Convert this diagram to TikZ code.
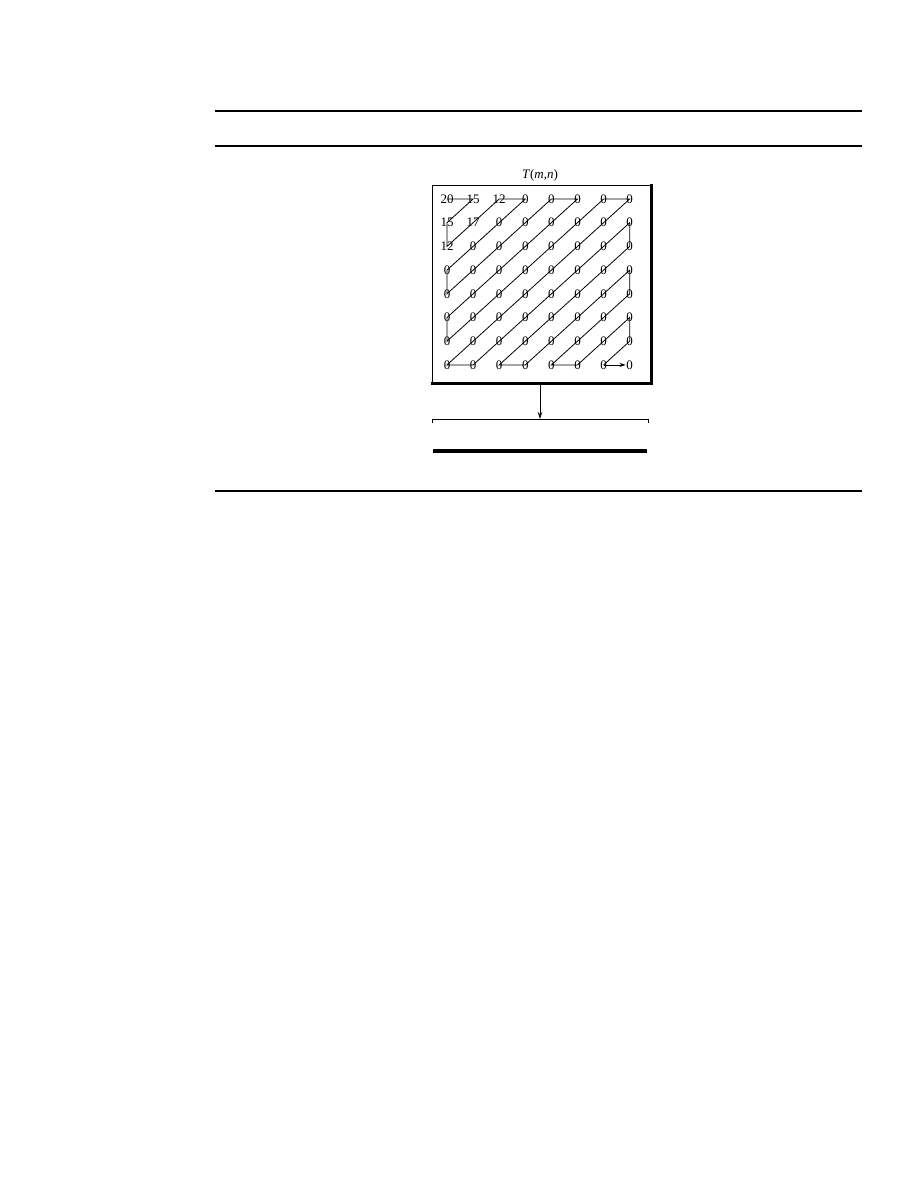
\documentclass[tikz,border=0pt]{standalone}
\usepackage{fontspec}
\setmainfont{Liberation Serif}
\usetikzlibrary{arrows.meta}

\begin{document}
\begin{tikzpicture}[x=1pt, y=-1pt, line width=0.8pt, font=\fontsize{13}{15}\selectfont]
\useasboundingbox (0,0) rectangle (918,1188);
% Grid parameters
\pgfmathsetmacro{\xo}{447}
\pgfmathsetmacro{\yo}{199}
\pgfmathsetmacro{\dx}{26.1}
\pgfmathsetmacro{\dy}{23.7}

% Table rules
\draw[line width=1.3pt] (215,111) -- (862,111);
\draw[line width=1.3pt] (215,146) -- (862,146);
\draw[line width=1.3pt] (215,491) -- (862,491);

% Block frame with heavy right and bottom edges
\draw (432,382) -- (432,185) -- (650,185);
\draw[line width=3pt] (651,184) -- (651,383) -- (431,383);
\node (title) at (540,175) {\textit{T}(\textit{m},\textit{n})};

% Coefficients
\foreach \row [count=\i from 0] in {{20,15,12,0,0,0,0,0},{15,17,0,0,0,0,0,0},{12,0,0,0,0,0,0,0},{0,0,0,0,0,0,0,0},{0,0,0,0,0,0,0,0},{0,0,0,0,0,0,0,0},{0,0,0,0,0,0,0,0},{0,0,0,0,0,0,0,0}}
  \foreach \v [count=\j from 0] in \row
    \node[inner sep=0.5pt] (c-\i-\j) at (\xo+\j*\dx, \yo+\i*\dy) {\v};

% Zigzag scan
\draw[line width=0.8pt] (c-0-0.center) \foreach \p in {0-1,1-0,2-0,0-2,0-3,3-0,4-0,0-4,0-5,5-0,6-0,0-6,0-7,7-0,7-1,1-7,2-7,7-2,7-3,3-7,4-7,7-4,7-5,5-7,6-7,7-6} { -- (c-\p.center) };
\draw[line width=0.8pt, -{Stealth[length=6pt, width=4pt]}] (c-7-6.center) -- (c-7-7);

% Output sequence
\coordinate (boxbot) at (540,384.5);
\coordinate (bar) at (540,419);
\draw[-{Stealth[length=7pt, width=4.5pt]}] (boxbot) -- (bar);
\draw (432,423) -- (432,419) -- (648,419) -- (648,423);
\draw[line width=3.5pt] (433,451) -- (647,451);
\end{tikzpicture}
\end{document}
